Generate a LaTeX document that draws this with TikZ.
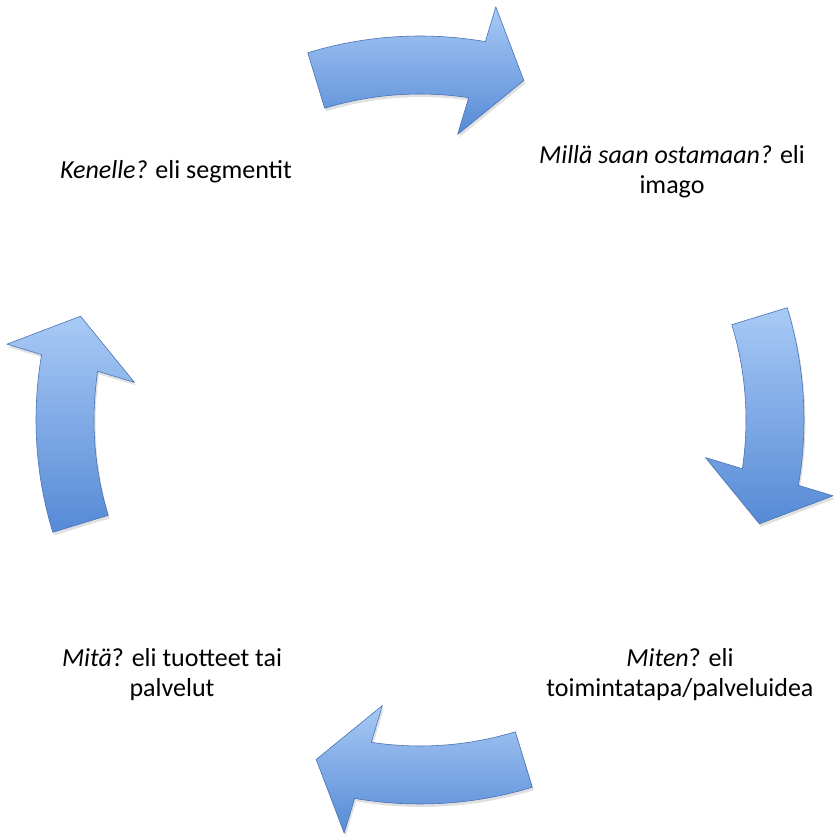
\documentclass[tikz,border=0pt]{standalone}
\usepackage{fontspec}
\setmainfont{Carlito}
\usetikzlibrary{shadows}
\definecolor{arrowtop}{RGB}{168,202,245}
\definecolor{arrowbot}{RGB}{86,138,214}
\definecolor{arrowedge}{RGB}{74,114,182}
\tikzset{
  cyclearrow/.style={top color=arrowtop, bottom color=arrowbot, draw=arrowedge,
    line width=0.6pt, line join=round,
    drop shadow={shadow xshift=1.5pt, shadow yshift=-3pt, opacity=0.12, fill=black}},
  cyclelabel/.style={font=\fontsize{26}{30}\selectfont, align=center, text=black, inner sep=0pt}
}
\newcommand{\drawcyclearrow}[1]{%
  \path[cyclearrow] (#1+17:384pt)
    arc[start angle=#1+17, end angle=#1-9.8, radius=384pt]
    -- (#1-10.4:420pt) -- (#1-17:355pt) -- (#1-7.5:288pt) -- (#1-8.6:326pt)
    arc[start angle=#1-8.6, end angle=#1+17, radius=326pt] -- cycle;}
\begin{document}
\begin{tikzpicture}[x=1pt,y=1pt]
\fill[white] (0,0) rectangle (835,839);
\useasboundingbox (0,0) rectangle (835,839);
\coordinate (C) at (420,419);
\begin{scope}[shift={(C)}]
  \drawcyclearrow{90}
  \drawcyclearrow{0}
  \drawcyclearrow{-90}
  \drawcyclearrow{180}
\end{scope}
\node[cyclelabel] (kenelle) at (176,667) {\textit{Kenelle?} eli segmentit};
\node[cyclelabel] (milla) at (672,667) {\textit{Millä saan ostamaan?} eli\\imago};
\node[cyclelabel] (miten) at (680,164) {\textit{Miten}? eli\\toimintatapa/palveluidea};
\node[cyclelabel] (mita) at (172,164) {\textit{Mitä}? eli tuotteet tai\\palvelut};
\end{tikzpicture}
\end{document}
